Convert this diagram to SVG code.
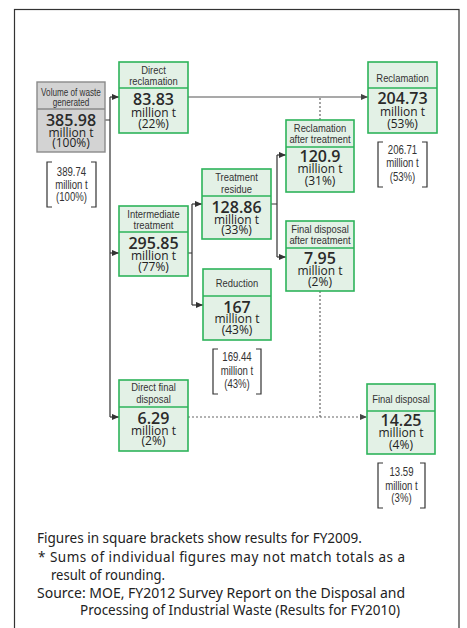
<svg xmlns="http://www.w3.org/2000/svg" width="467" height="628" viewBox="0 0 467 628">
<defs>
<marker id="ah" viewBox="0 0 8 8" refX="8" refY="4" markerUnits="userSpaceOnUse" markerWidth="7" markerHeight="7" orient="auto">
<path d="M0,0.5 L8,4 L0,7.5 Z" fill="#333"/>
</marker>
<marker id="ahg" viewBox="0 0 8 8" refX="8" refY="4" markerUnits="userSpaceOnUse" markerWidth="7" markerHeight="7" orient="auto">
<path d="M0,0.5 L8,4 L0,7.5 Z" fill="#444"/>
</marker>
<style>
.box{fill:#e3f1e6;stroke:#2db35a;stroke-width:1.6}
.gbox{fill:#d3d3d3;stroke:#8a8a8a;stroke-width:1.4}
.div{stroke:#2db35a;stroke-width:1.6}
.gdiv{stroke:#8a8a8a;stroke-width:1.4}
.hd{font-family:"Liberation Sans",Arial,sans-serif;font-size:11.5px;fill:#333;text-anchor:middle}
.num{font-family:"Open Sans","Noto Sans",sans-serif;font-weight:600;font-size:16px;fill:#2a2a2a;text-anchor:middle}
.sub{font-family:"Open Sans","Noto Sans",sans-serif;font-size:12px;fill:#222;text-anchor:middle}
.br{fill:none;stroke:#333;stroke-width:1.2}
.bt{font-family:"Liberation Sans",Arial,sans-serif;font-size:12px;fill:#333;text-anchor:middle}
.ln{fill:none;stroke:#333;stroke-width:1.2}
.lg{fill:none;stroke:#555;stroke-width:1.2}
.dt{fill:none;stroke:#666;stroke-width:1.2;stroke-dasharray:2,2}
.ft{font-family:"Noto Sans","Open Sans",sans-serif;font-size:13.5px;fill:#222}
</style>
</defs>
<rect width="467" height="628" fill="#fff"/>
<rect x="14.5" y="9.5" width="444.5" height="640" fill="none" stroke="#333" stroke-width="1.2"/>

<g id="connectors">
<path class="ln" d="M105,120 H110 M110,97 V417"/>
<path class="ln" d="M110,97 H119" marker-end="url(#ah)"/>
<path class="ln" d="M110,253 H119" marker-end="url(#ah)"/>
<path class="ln" d="M110,417 H119" marker-end="url(#ah)"/>
<path class="lg" d="M188,97 H368" marker-end="url(#ahg)"/>
<path class="ln" d="M188,253 H192 M192,204 V305"/>
<path class="ln" d="M192,204 H202" marker-end="url(#ah)"/>
<path class="ln" d="M192,305 H203" marker-end="url(#ah)"/>
<path class="ln" d="M271,204 H277 M277,155 V257"/>
<path class="ln" d="M277,155 H286" marker-end="url(#ah)"/>
<path class="ln" d="M277,257 H286" marker-end="url(#ah)"/>
<path class="dt" d="M320,98 V120 M320,291 V417"/>
<path class="dt" d="M188,417 H367" marker-end="url(#ahg)"/>
</g>

<g id="volume">
<rect class="gbox" x="37" y="82" width="68" height="70"/>
<line class="gdiv" x1="37" y1="109" x2="105" y2="109"/>
<text class="hd" transform="matrix(0.8,0,0,1,71,95.5)" style="font-size:10.2px">Volume of waste</text>
<text class="hd" transform="matrix(0.8,0,0,1,71,105.5)" style="font-size:10.2px">generated</text>
<text class="num" x="71" y="125.5">385.98</text>
<text class="sub" x="71" y="136.5">million t</text>
<text class="sub" x="71" y="146.5">(100%)</text>
</g>

<g id="bracket-volume">
<path class="br" d="M52,162 H47 V207 H52 M91,162 H96 V207 H91"/>
<text class="bt" transform="matrix(0.8,0,0,1,71.5,176)">389.74</text>
<text class="bt" transform="matrix(0.8,0,0,1,71.5,188.5)">million t</text>
<text class="bt" transform="matrix(0.8,0,0,1,71.5,201)">(100%)</text>
</g>

<g id="direct-reclamation">
<rect class="box" x="119" y="62" width="69" height="71"/>
<line class="div" x1="119" y1="88" x2="188" y2="88"/>
<text class="hd" transform="matrix(0.82,0,0,1,153.5,74)">Direct</text>
<text class="hd" transform="matrix(0.82,0,0,1,153.5,85)">reclamation</text>
<text class="num" x="153.5" y="104.5">83.83</text>
<text class="sub" x="153.5" y="116.5">million t</text>
<text class="sub" x="153.5" y="127.5">(22%)</text>
</g>

<g id="reclamation">
<rect class="box" x="368" y="62" width="69" height="71"/>
<line class="div" x1="368" y1="88" x2="437" y2="88"/>
<text class="hd" transform="matrix(0.82,0,0,1,402.5,82)">Reclamation</text>
<text class="num" x="402.5" y="103.5">204.73</text>
<text class="sub" x="402.5" y="115.5">million t</text>
<text class="sub" x="402.5" y="127.5">(53%)</text>
</g>

<g id="bracket-reclamation">
<path class="br" d="M383,142 H378 V187 H383 M422,142 H427 V187 H422"/>
<text class="bt" transform="matrix(0.8,0,0,1,402.5,154)">206.71</text>
<text class="bt" transform="matrix(0.8,0,0,1,402.5,167)">million t</text>
<text class="bt" transform="matrix(0.8,0,0,1,402.5,181)">(53%)</text>
</g>

<g id="reclamation-after-treatment">
<rect class="box" x="286" y="120" width="68" height="72"/>
<line class="div" x1="286" y1="147" x2="354" y2="147"/>
<text class="hd" transform="matrix(0.82,0,0,1,320,132)">Reclamation</text>
<text class="hd" transform="matrix(0.82,0,0,1,320,143)">after treatment</text>
<text class="num" x="320" y="161.5">120.9</text>
<text class="sub" x="320" y="173">million t</text>
<text class="sub" x="320" y="185">(31%)</text>
</g>

<g id="treatment-residue">
<rect class="box" x="202" y="169" width="69" height="70"/>
<line class="div" x1="202" y1="196" x2="271" y2="196"/>
<text class="hd" transform="matrix(0.82,0,0,1,236.5,181)">Treatment</text>
<text class="hd" transform="matrix(0.82,0,0,1,236.5,193)">residue</text>
<text class="num" x="236.5" y="212.5">128.86</text>
<text class="sub" x="236.5" y="223.5">million t</text>
<text class="sub" x="236.5" y="233.5">(33%)</text>
</g>

<g id="intermediate-treatment">
<rect class="box" x="119" y="206" width="69" height="70"/>
<line class="div" x1="119" y1="232" x2="188" y2="232"/>
<text class="hd" transform="matrix(0.82,0,0,1,153.5,218)">Intermediate</text>
<text class="hd" transform="matrix(0.82,0,0,1,153.5,229)">treatment</text>
<text class="num" x="153.5" y="248.5">295.85</text>
<text class="sub" x="153.5" y="259.5">million t</text>
<text class="sub" x="153.5" y="270.5">(77%)</text>
</g>

<g id="final-disposal-after-treatment">
<rect class="box" x="286" y="221" width="68" height="70"/>
<line class="div" x1="286" y1="248" x2="354" y2="248"/>
<text class="hd" transform="matrix(0.82,0,0,1,320,233)">Final disposal</text>
<text class="hd" transform="matrix(0.82,0,0,1,320,244)">after treatment</text>
<text class="num" x="320" y="263.5">7.95</text>
<text class="sub" x="320" y="275">million t</text>
<text class="sub" x="320" y="285.5">(2%)</text>
</g>

<g id="reduction">
<rect class="box" x="203" y="269" width="68" height="71"/>
<line class="div" x1="203" y1="296" x2="271" y2="296"/>
<text class="hd" transform="matrix(0.82,0,0,1,237,287)">Reduction</text>
<text class="num" x="237" y="312.5">167</text>
<text class="sub" x="237" y="322.5">million t</text>
<text class="sub" x="237" y="334">(43%)</text>
</g>

<g id="bracket-reduction">
<path class="br" d="M218,349 H213 V394 H218 M256,349 H261 V394 H256"/>
<text class="bt" transform="matrix(0.8,0,0,1,237,361)">169.44</text>
<text class="bt" transform="matrix(0.8,0,0,1,237,375)">million t</text>
<text class="bt" transform="matrix(0.8,0,0,1,237,388)">(43%)</text>
</g>

<g id="direct-final-disposal">
<rect class="box" x="119" y="380" width="69" height="71"/>
<line class="div" x1="119" y1="407" x2="188" y2="407"/>
<text class="hd" transform="matrix(0.82,0,0,1,153.5,391)">Direct final</text>
<text class="hd" transform="matrix(0.82,0,0,1,153.5,403)">disposal</text>
<text class="num" x="153.5" y="423.5">6.29</text>
<text class="sub" x="153.5" y="434.5">million t</text>
<text class="sub" x="153.5" y="445">(2%)</text>
</g>

<g id="final-disposal">
<rect class="box" x="367" y="384" width="68" height="70"/>
<line class="div" x1="367" y1="411" x2="435" y2="411"/>
<text class="hd" transform="matrix(0.82,0,0,1,401,403)">Final disposal</text>
<text class="num" x="401" y="425.5">14.25</text>
<text class="sub" x="401" y="437">million t</text>
<text class="sub" x="401" y="449">(4%)</text>
</g>

<g id="bracket-final-disposal">
<path class="br" d="M383,463 H378 V508 H383 M420,463 H425 V508 H420"/>
<text class="bt" transform="matrix(0.8,0,0,1,401.5,476)">13.59</text>
<text class="bt" transform="matrix(0.8,0,0,1,401.5,490)">million t</text>
<text class="bt" transform="matrix(0.8,0,0,1,401.5,502)">(3%)</text>
</g>

<g id="notes">
<text class="ft" x="37" y="542.5" textLength="325" lengthAdjust="spacingAndGlyphs">Figures in square brackets show results for FY2009.</text>
<text class="ft" x="38" y="561.5" textLength="367" lengthAdjust="spacing">* Sums of individual figures may not match totals as a</text>
<text class="ft" x="51" y="579.5" textLength="114" lengthAdjust="spacingAndGlyphs">result of rounding.</text>
<text class="ft" x="37" y="597.5" textLength="368" lengthAdjust="spacingAndGlyphs">Source: MOE, FY2012 Survey Report on the Disposal and</text>
<text class="ft" x="80" y="614.5" textLength="320" lengthAdjust="spacingAndGlyphs">Processing of Industrial Waste (Results for FY2010)</text>
</g>
</svg>
